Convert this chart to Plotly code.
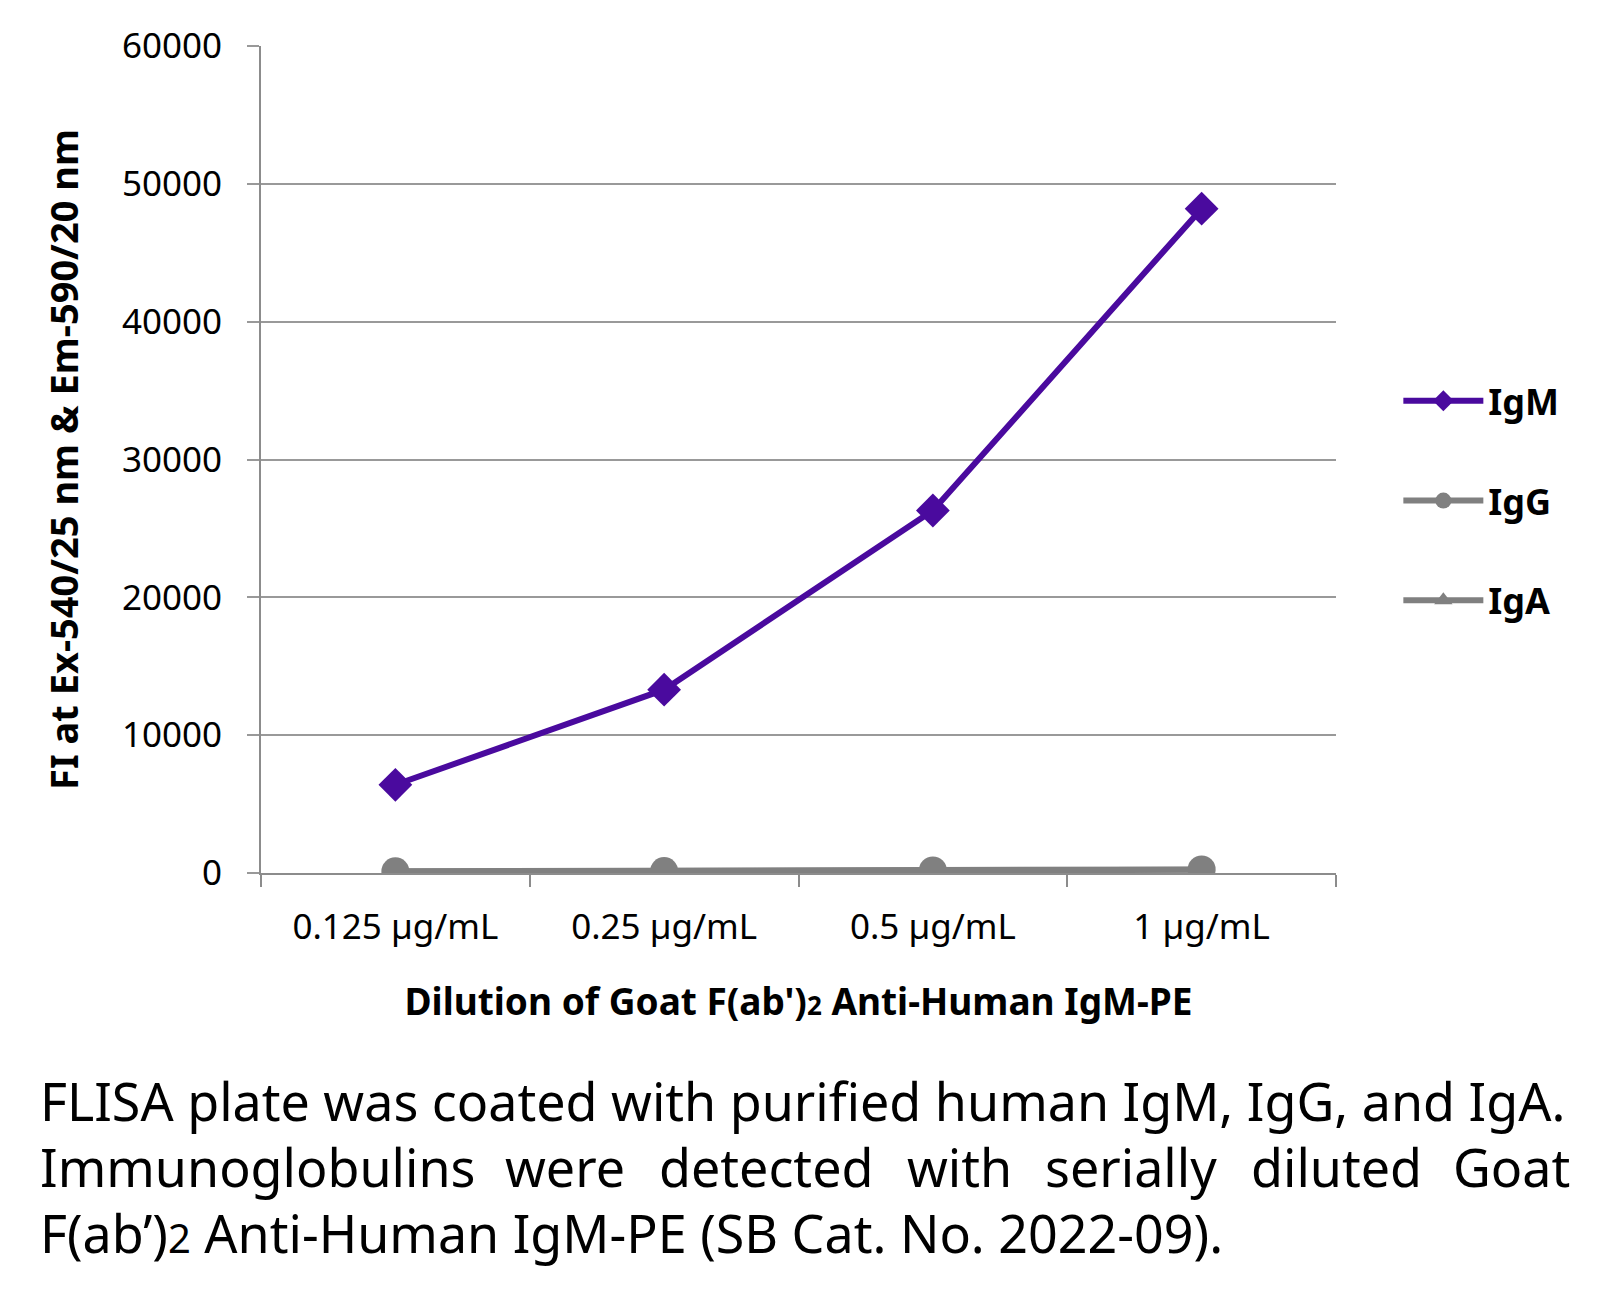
import plotly.graph_objects as go

categories = ['0.125 µg/mL', '0.25 µg/mL', '0.5 µg/mL', '1 µg/mL']
igm = [6400, 13300, 26300, 48200]
igg = [120, 140, 180, 260]
iga = [100, 120, 160, 230]
y_ticks = [0, 10000, 20000, 30000, 40000, 50000, 60000]

caption_line1 = 'FLISA plate was coated with purified human IgM, IgG, and IgA.'
caption_line2 = ['Immunoglobulins', 'were', 'detected', 'with', 'serially', 'diluted', 'Goat']
caption_line3 = 'F(ab’)<span style="font-size:40px">2</span> Anti-Human IgM-PE (SB Cat. No. 2022-09).'

FONT = 'Noto Sans'
purple = '#4a0a9e'
gray = '#808080'

fig = go.Figure()
fig.add_trace(go.Scatter(x=categories, y=igm, name='<b>IgM</b>', mode='lines+markers',
                         legendgroup='a',
                         line=dict(color=purple, width=6),
                         marker=dict(symbol='diamond', size=26, color=purple)))
fig.add_trace(go.Scatter(x=categories, y=igg, name='<b>IgG</b>', mode='lines+markers',
                         legendgroup='b',
                         line=dict(color=gray, width=6),
                         marker=dict(symbol='circle', size=28, color=gray)))
fig.add_trace(go.Scatter(x=categories, y=iga, name='<b>IgA</b>', mode='lines+markers',
                         legendgroup='c',
                         line=dict(color=gray, width=6),
                         marker=dict(symbol='triangle-up', size=24, color=gray)))

# the page body adds an 8px offset, so the figure is sized to fit inside it
fig.update_layout(
    width=1589, height=1290,
    margin=dict(l=253, r=261, t=38, b=425),
    plot_bgcolor='white', paper_bgcolor='white',
    font=dict(family=FONT, color='black', size=35),
    legend=dict(x=1.058, y=0.45, yanchor='middle', font=dict(size=36, family=FONT),
                itemwidth=80, tracegroupgap=50),
)
fig.update_xaxes(type='category', range=[-0.5, 3.5], tickson='boundaries',
                 showline=True, linecolor='#8c8c8c', linewidth=2,
                 ticks='outside', tickcolor='#8c8c8c', tickwidth=2, ticklen=12,
                 ticklabelstandoff=22,
                 showgrid=False, tickfont=dict(size=35),
                 title=dict(text='<b>Dilution of Goat F(ab\')<span style="font-size:26px">2</span> Anti-Human IgM-PE</b>',
                            font=dict(size=37), standoff=41))
fig.update_yaxes(range=[0, 60000], tickvals=y_ticks, tickformat='d',
                 showgrid=True, gridcolor='#999999', gridwidth=2,
                 showline=True, linecolor='#8c8c8c', linewidth=2,
                 ticks='outside', tickcolor='#999999', tickwidth=2, ticklen=12,
                 ticklabelstandoff=18,
                 zeroline=False, tickfont=dict(size=35),
                 title=dict(text='<b>FI at Ex-540/25 nm & Em-590/20 nm</b>', font=dict(size=38), standoff=32))

cap_font = dict(size=52, family=FONT)
fig.add_annotation(text=caption_line1, xref='paper', yref='paper', x=-0.2074, y=-0.2745,
                   xanchor='left', yanchor='middle', showarrow=False, font=cap_font)
word_x = [-0.2074, 0.2828, 0.4698, 0.6502, 0.8093, 1.0008, 1.2195]
for i, w in enumerate(caption_line2):
    anchor = 'left' if i == 0 else ('right' if i == len(caption_line2) - 1 else 'center')
    fig.add_annotation(text=w, xref='paper', yref='paper', x=word_x[i], y=-0.3543,
                       xanchor=anchor, yanchor='middle', showarrow=False, font=cap_font)
fig.add_annotation(text=caption_line3, xref='paper', yref='paper', x=-0.2074, y=-0.4341,
                   xanchor='left', yanchor='middle', showarrow=False, font=cap_font)

fig.write_html('out.html')
